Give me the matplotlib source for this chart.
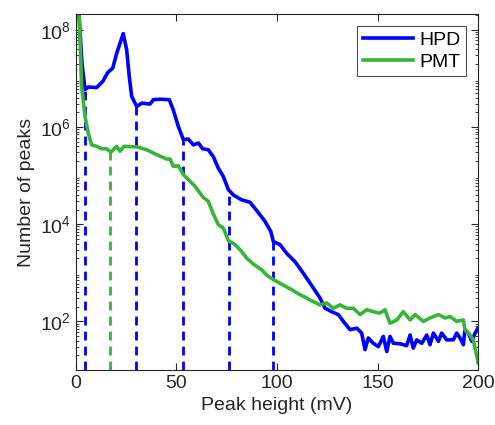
import numpy as np
import matplotlib
matplotlib.use('Agg')
from matplotlib import pyplot as plt

plt.rcParams['font.family'] = ['Liberation Sans', 'DejaVu Sans']

# HPD spectrum (mV, number of peaks)
hpd_mv = [0, 1.5, 3.0, 4.5, 6.1, 10.3, 13.4, 15.8, 18.3, 20.3, 23.5, 25.2, 26.5, 27.7,
          30.2, 32.7, 36.8, 38.5, 41.8, 46.4, 48.4, 50.9, 53.4, 55.9, 58.4, 60.9, 63.0,
          65.8, 68.3, 70.8, 73.3, 75.8, 78.3, 82.4, 86.6, 89.9, 94.0, 96.9, 98.2, 101.5,
          104.8, 108.9, 111.4, 116.4, 121.4, 123.9, 127.2, 130.5, 133.0, 136.3, 139.7,
          142.1, 143.8, 145.4, 147.9, 150.4, 152.9, 154.6, 156.2, 157.9, 161.2, 164.5,
          166.2, 167.8, 169.5, 172.0, 174.5, 176.1, 177.8, 180.3, 181.9, 184.4, 187.7,
          189.4, 191.0, 192.7, 193.5, 195.2, 196.9, 198.5, 200.0]
hpd_log = [8.8, 8.3, 7.3, 6.77, 6.82, 6.81, 6.94, 7.12, 7.21, 7.52, 7.92, 7.59, 7.04, 6.63,
           6.42, 6.49, 6.47, 6.56, 6.57, 6.56, 6.35, 6.01, 5.74, 5.75, 5.63, 5.67, 5.55,
           5.53, 5.39, 5.15, 4.98, 4.71, 4.60, 4.50, 4.45, 4.28, 4.06, 3.85, 3.64, 3.58,
           3.40, 3.23, 3.09, 2.79, 2.48, 2.27, 2.20, 2.14, 2.00, 1.83, 1.86,
           1.76, 1.42, 1.66, 1.55, 1.48, 1.69, 1.38, 1.69, 1.55, 1.54, 1.50,
           1.72, 1.45, 1.62, 1.55, 1.72, 1.52, 1.76, 1.59, 1.76, 1.62, 1.62,
           1.76, 1.66, 1.52, 1.83, 1.76, 1.59, 1.76, 1.86]

# PMT spectrum
pmt_mv = [0, 1.6, 2.8, 4.5, 6.1, 7.8, 10.3, 12.8, 15.3, 17.3, 20.2, 21.9, 23.9, 30.2, 35.2,
          40.1, 45.1, 46.8, 48.4, 50.9, 53.4, 59.2, 63.3, 65.8, 68.3, 70.8, 73.3, 75.8,
          79.1, 82.4, 84.9, 88.2, 92.4, 94.9, 98.2, 106.5, 111.4, 114.8, 116.4, 121.4,
          124.7, 128.0, 131.3, 134.7, 138.0, 141.3, 144.6, 147.9, 151.2, 153.7, 156.2,
          159.6, 162.8, 166.2, 168.7, 172.8, 176.1, 180.3, 183.6, 186.1, 189.4, 192.7,
          193.5, 196.0, 197.6, 199.4, 200.0]
pmt_log = [8.8, 8.3, 6.83, 6.22, 5.87, 5.63, 5.60, 5.55, 5.55, 5.48, 5.60, 5.50, 5.60, 5.59, 5.53,
           5.43, 5.34, 5.34, 5.19, 5.20, 5.02, 4.78, 4.55, 4.47, 4.21, 3.99, 3.92, 3.66,
           3.58, 3.44, 3.30, 3.18, 3.06, 2.95, 2.86, 2.67, 2.55, 2.48, 2.44, 2.34,
           2.38, 2.27, 2.34, 2.27, 2.27, 2.14, 2.24, 2.20, 2.17, 2.24, 1.96,
           2.03, 2.20, 2.03, 2.14, 2.00, 2.07, 2.14, 2.07, 2.10, 2.00, 2.03,
           1.83, 1.72, 1.62, 1.28, 1.15]

# dashed markers: position (mV) and top (number of peaks)
hpd_cut_mv = [4.5, 30, 53, 76, 98]
hpd_cut_top = [6.0e6, 2.6e6, 5.5e5, 5.0e4, 4.4e3]
pmt_cut_mv = [17]
pmt_cut_top = [3.0e5]

blue = '#0000ff'
green = '#38b438'

fig = plt.figure(figsize=(4.95, 4.25), dpi=100)
ax = fig.add_axes([0.1535, 0.1294, 0.8122, 0.8376])

ax.vlines(hpd_cut_mv, 10, hpd_cut_top, colors=blue, linestyles=(0, (3.2, 2.2)), linewidth=2)
ax.vlines(pmt_cut_mv, 10, pmt_cut_top, colors=green, linestyles=(0, (3.2, 2.2)), linewidth=2)

ax.plot(hpd_mv, 10 ** np.array(hpd_log), color=blue, lw=2.6, label='HPD')
ax.plot(pmt_mv, 10 ** np.array(pmt_log), color=green, lw=2.6, label='PMT')

ax.set_yscale('log')
ax.set_xlim(0, 200)
ax.set_ylim(10, 2.1e8)
ax.set_xticks([0, 50, 100, 150, 200])
ax.set_yticks([1e2, 1e4, 1e6, 1e8])
ax.tick_params(which='both', direction='in', top=True, right=True, labelsize=14,
               color='#262626', labelcolor='#262626')
ax.tick_params(which='major', length=5)
ax.tick_params(which='minor', length=2.5)
for s in ax.spines.values():
    s.set_color('#262626')
    s.set_linewidth(0.8)

ax.set_xlabel('Peak height (mV)', fontsize=14, color='#262626')
ax.set_ylabel('Number of peaks', fontsize=14, color='#262626')

leg = ax.legend(loc='upper right', fontsize=14, frameon=True, fancybox=False,
                edgecolor='#262626', handlelength=2.6, borderpad=0.3,
                labelspacing=0.2, handletextpad=0.3, borderaxespad=0.6)
leg.get_frame().set_linewidth(0.8)

fig.savefig('out.png', dpi=100)
